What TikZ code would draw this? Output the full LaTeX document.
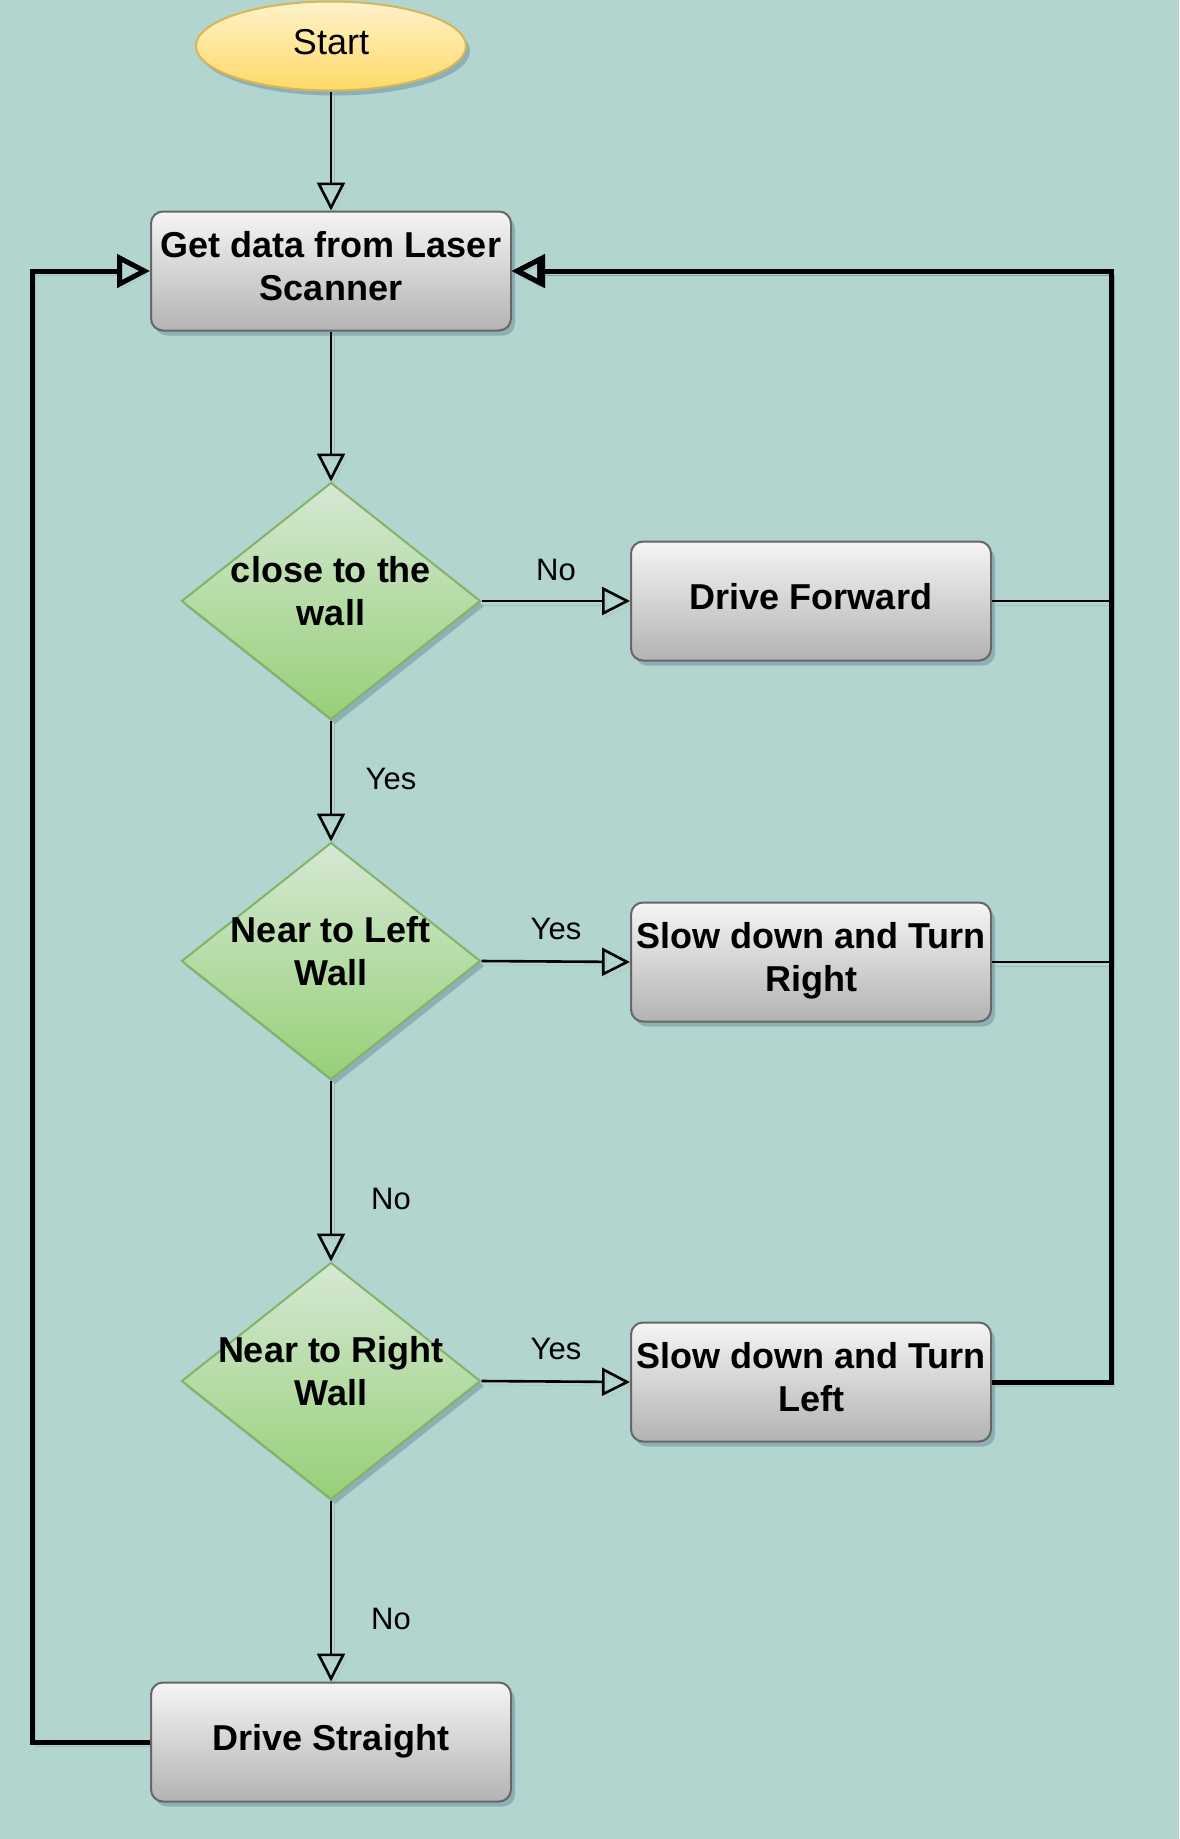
\documentclass[tikz,border=0pt]{standalone}
\usepackage{fontspec}
\setmainfont{Liberation Sans}
\usetikzlibrary{shapes.geometric,arrows.meta,shadows}
\definecolor{bgc}{HTML}{B3D5D0}
\definecolor{boxtop}{HTML}{F5F5F5}
\definecolor{boxbot}{HTML}{B3B3B3}
\definecolor{boxline}{HTML}{666666}
\definecolor{dtop}{HTML}{D5E8D4}
\definecolor{dbot}{HTML}{97D077}
\definecolor{dline}{HTML}{82B366}
\definecolor{etop}{HTML}{FFF2CC}
\definecolor{ebot}{HTML}{FFD966}
\definecolor{eline}{HTML}{D6B656}
\definecolor{shc}{HTML}{4A6A80}
\newcommand\zbox[2][0pt]{\hbox to 0pt{\hss\vbox to 0pt{\vss\hbox{\begin{tabular}{@{}c@{}}#2\end{tabular}}\vss\vskip #1}\hss}}
\begin{document}
\begin{tikzpicture}[x=1pt,y=-1pt,
  nshadow/.style={drop shadow={shadow xshift=4pt,shadow yshift=-5pt,fill=shc,opacity=0.35}},
  proc/.style={rectangle, rounded corners=12pt, draw=boxline, line width=2pt,
    top color=boxtop, bottom color=boxbot, minimum width=360pt, minimum height=119pt,
    inner sep=0pt, font=\fontsize{36}{43}\selectfont\bfseries, nshadow},
  decis/.style={diamond, draw=dline, line width=2pt, top color=dtop, bottom color=dbot,
    minimum width=299pt, minimum height=237pt, inner sep=0pt,
    font=\fontsize{36}{43}\selectfont\bfseries, nshadow},
  term/.style={ellipse, draw=eline, line width=2pt, top color=etop, bottom color=ebot,
    minimum width=270pt, minimum height=89pt, inner sep=0pt,
    font=\fontsize{36}{43}\selectfont, nshadow},
  lsh/.style={preaction={draw=shc, opacity=0.2, transform canvas={shift={(3pt,-4pt)}}}},
  thin/.style={line width=2.6pt, lsh, -{Triangle[open, length=28pt, width=28pt]}},
  thick/.style={line width=5pt, lsh, -{Triangle[open, length=33pt, width=33pt]}},
  lbl/.style={font=\fontsize{31}{36}\selectfont, inner sep=0pt}
]
\fill[bgc] (0,0) rectangle (1179,1839);
\useasboundingbox (0,0) rectangle (1179,1839);

\node[term] (start) at (331,46) {\zbox[0pt]{Start}};
\node[proc] (get) at (331,271) {\zbox[1pt]{Get data from Laser\\Scanner}};
\node[decis] (d1) at (331,601) {\zbox[12pt]{close to the\\wall}};
\node[proc] (df) at (811,601) {\zbox[1pt]{Drive Forward}};
\node[decis] (d2) at (331,961) {\zbox[12pt]{Near to Left\\Wall}};
\node[proc] (sr) at (811,962) {\zbox[1pt]{Slow down and Turn\\Right}};
\node[decis] (d3) at (331,1381) {\zbox[12pt]{Near to Right\\Wall}};
\node[proc] (sl) at (811,1382) {\zbox[1pt]{Slow down and Turn\\Left}};
\node[proc] (ds) at (331,1742) {\zbox[1pt]{Drive Straight}};

\coordinate (rtop) at (1111,271);
\coordinate (lbot) at (32,1742);
\coordinate (ltop) at (32,271);

\draw[thin] (start.south) -- (get.north);
\draw[thin] (get.south) -- (d1.north);
\draw[thin] (d1.east) -- (df.west);
\draw[thin] (d1.south) -- (d2.north);
\draw[thin] (d2.east) -- (sr.west);
\draw[thin] (d2.south) -- (d3.north);
\draw[thin] (d3.east) -- (sl.west);
\draw[thin] (d3.south) -- (ds.north);

\draw[thin] (df.east) -- (df.east -| rtop) -- (rtop) -- (get.east);
\draw[thin] (sr.east) -- (sr.east -| rtop) -- (rtop) -- (get.east);
\draw[thick] (sl.east) -- (sl.east -| rtop) -- (rtop) -- (get.east);
\draw[thick] (ds.west) -- (lbot) -- (ltop) -- (get.west);

\node[lbl] (l1) at (556,570) {No};
\node[lbl] (l2) at (391,779) {Yes};
\node[lbl] (l3) at (556,929) {Yes};
\node[lbl] (l4) at (391,1199) {No};
\node[lbl] (l5) at (556,1349) {Yes};
\node[lbl] (l6) at (391,1619) {No};
\end{tikzpicture}
\end{document}
